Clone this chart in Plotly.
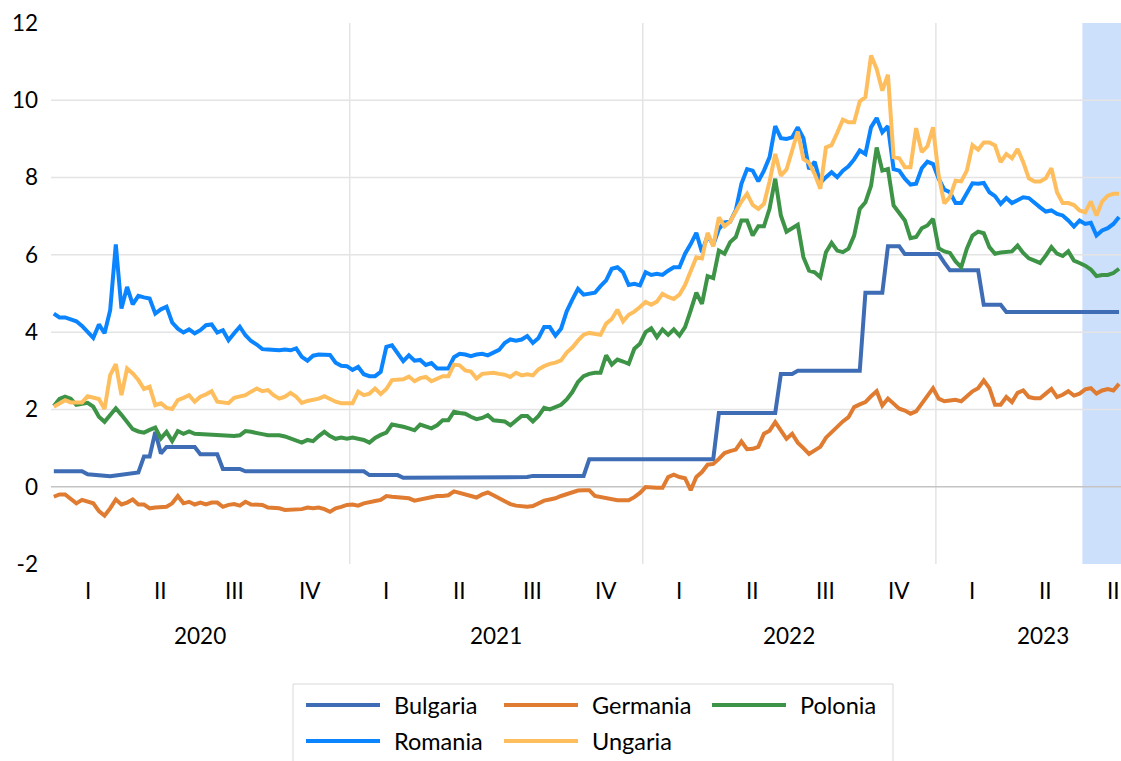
import numpy as np
import plotly.graph_objects as go

# ---------------- data ----------------
# weekly observations (ISO weeks) per year; 2023 runs to week 38 (chart cropped on the right)
week_counts = {2020: 53, 2021: 52, 2022: 52, 2023: 38}
quarter_names = ["I", "II", "III", "IV"]
series_names = ["Bulgaria", "Germania", "Polonia", "Romania", "Ungaria"]
series_colors = ["#3E6DB5", "#E07C31", "#3D9447", "#0A84FF", "#FFBE5E"]

bulgaria = ([0.40] * 6 + [0.32, 0.31, 0.30, 0.27, 0.27, 0.29, 0.31, 0.34, 0.36, 0.37]
            + [0.78, 0.78, 1.42, 0.86] + [1.03] * 6 + [0.84] * 4 + [0.46] * 4 + [0.40] * 22
            + [0.30] * 6 + [0.23] * 19 + [0.25] * 4 + [0.28] * 10 + [0.71] * 23 + [1.91] * 11
            + [2.92] * 3 + [3.00] * 12 + [5.02] * 4 + [6.22] * 3 + [6.02] * 7 + [5.80]
            + [5.60] * 6 + [4.71] * 4 + [4.52] * 21)

germania = [-0.26, -0.20, -0.20, -0.30, -0.43, -0.34, -0.39, -0.43, -0.63, -0.75, -0.56, -0.33, -0.46, -0.41, -0.33, -0.46,
            -0.46, -0.56, -0.54, -0.54, -0.52, -0.43, -0.24, -0.43, -0.39, -0.46, -0.41, -0.46, -0.41, -0.41, -0.52, -0.47,
            -0.45, -0.49, -0.39, -0.46, -0.46, -0.47, -0.54, -0.54, -0.56, -0.60, -0.59, -0.60, -0.58, -0.54, -0.56, -0.54,
            -0.58, -0.65, -0.56, -0.52, -0.47, -0.46, -0.49, -0.43, -0.41, -0.37, -0.34, -0.24, -0.26, -0.28, -0.28, -0.30,
            -0.36, -0.33, -0.28, -0.26, -0.24, -0.24, -0.22, -0.12, -0.16, -0.18, -0.22, -0.28, -0.20, -0.15, -0.22, -0.30,
            -0.38, -0.45, -0.49, -0.50, -0.52, -0.50, -0.42, -0.36, -0.33, -0.30, -0.24, -0.20, -0.15, -0.10, -0.09, -0.09,
            -0.24, -0.27, -0.31, -0.34, -0.35, -0.35, -0.35, -0.27, -0.16, -0.01, -0.03, -0.03, -0.03, 0.25, 0.31, 0.25,
            0.22, -0.09, 0.25, 0.38, 0.57, 0.59, 0.72, 0.87, 0.92, 0.96, 1.17, 0.97, 0.98, 1.03, 1.37, 1.45,
            1.67, 1.46, 1.24, 1.37, 1.14, 1.00, 0.85, 0.94, 1.03, 1.27, 1.41, 1.56, 1.69, 1.80, 2.06, 2.13,
            2.19, 2.34, 2.47, 2.10, 2.28, 2.15, 2.02, 1.97, 1.89, 1.95, 2.15, 2.36, 2.55, 2.28, 2.21, 2.23,
            2.25, 2.21, 2.34, 2.47, 2.55, 2.75, 2.55, 2.12, 2.12, 2.32, 2.19, 2.43, 2.49, 2.32, 2.29, 2.29,
            2.41, 2.53, 2.32, 2.38, 2.47, 2.36, 2.41, 2.52, 2.55, 2.41, 2.49, 2.53, 2.49, 2.66]

polonia = [2.09, 2.27, 2.33, 2.28, 2.12, 2.14, 2.17, 2.07, 1.81, 1.68, 1.86, 2.03, 1.86, 1.68, 1.49, 1.43,
           1.40, 1.47, 1.53, 1.25, 1.42, 1.18, 1.44, 1.37, 1.43, 1.37, 1.36, 1.35, 1.33, 1.33, 1.31, 1.31,
           1.31, 1.33, 1.44, 1.42, 1.38, 1.36, 1.33, 1.33, 1.33, 1.30, 1.24, 1.18, 1.14, 1.21, 1.18, 1.31,
           1.42, 1.31, 1.24, 1.27, 1.24, 1.27, 1.25, 1.21, 1.14, 1.26, 1.34, 1.40, 1.61, 1.59, 1.55, 1.51,
           1.46, 1.61, 1.57, 1.51, 1.59, 1.72, 1.72, 1.94, 1.91, 1.89, 1.81, 1.75, 1.78, 1.85, 1.72, 1.71,
           1.69, 1.59, 1.72, 1.83, 1.83, 1.69, 1.83, 2.04, 2.00, 2.06, 2.12, 2.26, 2.45, 2.71, 2.86, 2.92,
           2.95, 2.95, 3.40, 3.16, 3.29, 3.24, 3.18, 3.57, 3.70, 4.00, 4.10, 3.87, 4.07, 3.93, 4.07, 3.91,
           4.13, 4.56, 5.02, 4.73, 5.45, 5.40, 6.11, 6.03, 6.33, 6.46, 6.89, 6.89, 6.50, 6.74, 6.74, 7.20,
           7.97, 7.02, 6.60, 6.69, 6.78, 5.94, 5.59, 5.55, 5.42, 6.07, 6.31, 6.11, 6.07, 6.16, 6.50, 7.19,
           7.36, 7.79, 8.78, 8.18, 8.22, 7.28, 7.09, 6.89, 6.43, 6.46, 6.69, 6.76, 6.93, 6.17, 6.09, 6.05,
           5.83, 5.68, 6.16, 6.50, 6.60, 6.56, 6.20, 6.03, 6.06, 6.07, 6.09, 6.24, 6.05, 5.91, 5.85, 5.79,
           5.98, 6.20, 6.03, 5.97, 6.09, 5.85, 5.79, 5.72, 5.62, 5.45, 5.48, 5.48, 5.53, 5.64]

romania = [4.48, 4.38, 4.38, 4.34, 4.28, 4.16, 4.00, 3.85, 4.20, 3.97, 4.57, 6.27, 4.61, 5.17, 4.72, 4.94,
           4.90, 4.87, 4.48, 4.59, 4.66, 4.25, 4.09, 3.99, 4.07, 3.97, 4.05, 4.18, 4.20, 3.99, 4.05, 3.79,
           3.97, 4.14, 3.92, 3.77, 3.68, 3.56, 3.55, 3.53, 3.53, 3.55, 3.53, 3.58, 3.36, 3.26, 3.39, 3.42,
           3.42, 3.41, 3.21, 3.13, 3.12, 3.02, 3.10, 2.91, 2.86, 2.86, 2.97, 3.62, 3.66, 3.47, 3.25, 3.40,
           3.26, 3.28, 3.15, 3.20, 3.06, 3.06, 3.06, 3.35, 3.44, 3.42, 3.38, 3.42, 3.44, 3.40, 3.47, 3.54,
           3.72, 3.81, 3.78, 3.81, 3.90, 3.72, 3.85, 4.13, 4.13, 3.91, 4.09, 4.54, 4.84, 5.12, 4.97, 5.00,
           5.02, 5.19, 5.34, 5.64, 5.68, 5.55, 5.22, 5.25, 5.21, 5.55, 5.48, 5.51, 5.48, 5.59, 5.68, 5.68,
           6.03, 6.28, 6.57, 6.07, 6.50, 6.26, 6.67, 6.84, 6.86, 7.15, 7.84, 8.22, 8.18, 7.90, 8.18, 8.53,
           9.33, 9.02, 9.00, 9.04, 9.30, 9.02, 8.22, 8.41, 7.86, 8.01, 8.14, 8.01, 8.18, 8.29, 8.47, 8.70,
           8.61, 9.30, 9.54, 9.17, 9.33, 8.22, 8.18, 7.97, 7.82, 7.84, 8.24, 8.41, 8.35, 7.97, 7.69, 7.62,
           7.34, 7.34, 7.58, 7.85, 7.84, 7.86, 7.62, 7.52, 7.32, 7.47, 7.34, 7.43, 7.49, 7.47, 7.34, 7.23,
           7.12, 7.15, 7.06, 7.02, 6.89, 6.73, 6.89, 6.80, 6.83, 6.50, 6.63, 6.69, 6.80, 6.98]

ungaria = [2.07, 2.16, 2.24, 2.18, 2.18, 2.18, 2.34, 2.31, 2.27, 2.01, 2.89, 3.17, 2.37, 3.06, 2.93, 2.76,
           2.53, 2.59, 2.11, 2.16, 2.04, 2.01, 2.24, 2.30, 2.37, 2.20, 2.33, 2.39, 2.47, 2.20, 2.18, 2.16,
           2.30, 2.33, 2.37, 2.46, 2.54, 2.47, 2.50, 2.37, 2.28, 2.33, 2.43, 2.33, 2.17, 2.22, 2.24, 2.28,
           2.34, 2.27, 2.20, 2.16, 2.16, 2.16, 2.46, 2.37, 2.41, 2.54, 2.40, 2.53, 2.76, 2.76, 2.78, 2.85,
           2.73, 2.81, 2.84, 2.73, 2.80, 2.86, 2.86, 3.16, 3.14, 3.01, 2.98, 2.80, 2.92, 2.94, 2.95, 2.92,
           2.90, 2.84, 2.95, 2.88, 2.91, 2.88, 3.04, 3.12, 3.18, 3.21, 3.27, 3.47, 3.60, 3.78, 3.93, 3.98,
           3.96, 3.93, 4.22, 4.34, 4.58, 4.28, 4.45, 4.53, 4.65, 4.78, 4.71, 4.79, 4.99, 4.91, 4.86, 4.97,
           5.22, 5.59, 5.94, 5.91, 6.57, 6.22, 6.97, 6.74, 6.86, 7.12, 7.38, 7.58, 7.29, 7.19, 7.32, 7.90,
           8.61, 8.05, 8.21, 8.70, 9.19, 8.48, 8.38, 8.09, 7.71, 8.78, 8.84, 9.16, 9.50, 9.43, 9.43, 9.97,
           10.08, 11.16, 10.81, 10.25, 10.66, 8.53, 8.50, 8.27, 8.27, 9.28, 8.66, 8.81, 9.30, 8.05, 7.33, 7.50,
           7.92, 7.90, 8.18, 8.84, 8.72, 8.91, 8.91, 8.83, 8.40, 8.61, 8.50, 8.74, 8.40, 7.98, 7.90, 7.90,
           7.98, 8.24, 7.62, 7.34, 7.34, 7.29, 7.15, 7.10, 7.38, 7.02, 7.38, 7.53, 7.58, 7.58]

forecast_quarter = (2023, 3)   # shaded period starts with this quarter
y_ticks = [-2, 0, 2, 4, 6, 8, 10, 12]
y_tick_labels = [str(v) for v in y_ticks]
grid_values = [2, 4, 6, 8, 10]

# ---------------- categories ----------------
categories = [(y, w) for y, n in week_counts.items() for w in range(1, n + 1)]
cat_year = [c[0] for c in categories]
cat_quarter = [min((c[1] - 1) // 13, 3) + 1 for c in categories]

groups_q, groups_y = {}, {}
for i, (yr, q) in enumerate(zip(cat_year, cat_quarter)):
    groups_q.setdefault((yr, q), [i, i])[1] = i
    groups_y.setdefault(yr, [i, i])[1] = i

year_bounds = [groups_y[yr][0] - 0.5 for yr in list(groups_y)[1:]]
shade_start = groups_q[forecast_quarter][0] - 0.5

all_series = [bulgaria, germania, polonia, romania, ungaria]
x = np.arange(len(romania))

# ---------------- geometry ----------------
W, H = 1121, 761
ML, MR, MT, MB = 51, 0, 23, 197
PH = H - MT - MB
PW = W - ML - MR
X_RANGE = [-0.5, 189.35]


def py(ypx):
    return (H - MB - ypx) / PH


def px(xpx):
    return (xpx - ML) / PW


FONT = "Lato"
AX_SIZE = 22.5
LEG_SIZE = 23.5

fig = go.Figure()
for name, vals, col in zip(series_names, all_series, series_colors):
    fig.add_trace(go.Scatter(x=x[:len(vals)], y=vals, mode="lines", name=name,
                             line=dict(color=col, width=4), showlegend=False,
                             hoverinfo="x+y+name"))

shapes = []
shapes.append(dict(type="rect", xref="x", yref="paper", x0=shade_start, x1=X_RANGE[1] + 5,
                   y0=0, y1=1, fillcolor="#CCE0FC", line=dict(width=0), layer="below"))
for g in grid_values:
    shapes.append(dict(type="line", xref="paper", yref="y", x0=0, x1=1, y0=g, y1=g,
                       line=dict(color="#E4E4E4", width=1.5), layer="below"))
for b in year_bounds:
    shapes.append(dict(type="line", xref="x", yref="paper", x0=b, x1=b, y0=0, y1=1,
                       line=dict(color="#E4E4E4", width=1.5), layer="below"))
shapes.append(dict(type="line", xref="paper", yref="y", x0=0, x1=1, y0=0, y1=0,
                   line=dict(color="#C4C4C4", width=1.5), layer="below"))

annotations = []
for (yr, q), (a, b) in groups_q.items():
    annotations.append(dict(x=(a + b) / 2, y=py(590), xref="x", yref="paper", text=quarter_names[q - 1],
                            showarrow=False, xanchor="center", yanchor="middle",
                            font=dict(family=FONT, size=AX_SIZE, color="#000000")))
for yr, (a, b) in groups_y.items():
    annotations.append(dict(x=(a + b) / 2, y=py(635), xref="x", yref="paper", text=str(yr),
                            showarrow=False, xanchor="center", yanchor="middle",
                            font=dict(family=FONT, size=AX_SIZE, color="#000000")))

# legend (custom, drawn below the chart)
shapes.append(dict(type="rect", xref="paper", yref="paper", x0=px(293), x1=px(893),
                   y0=py(684), y1=py(790), line=dict(color="#D9D9D9", width=1), fillcolor="rgba(0,0,0,0)"))
legend_slots = [(306, 705), (504, 705), (712, 705), (306, 741), (504, 741)]
for name, col, (lx, ly) in zip(series_names, series_colors, legend_slots):
    shapes.append(dict(type="line", xref="paper", yref="paper", x0=px(lx), x1=px(lx + 74),
                       y0=py(ly), y1=py(ly), line=dict(color=col, width=4)))
    annotations.append(dict(x=px(lx + 86), y=py(ly), xref="paper", yref="paper", text=name,
                            showarrow=False, xanchor="left", yanchor="middle",
                            font=dict(family=FONT, size=LEG_SIZE, color="#000000")))

fig.update_layout(
    width=W, height=H,
    margin=dict(l=ML, r=MR, t=MT, b=MB, pad=0),
    paper_bgcolor="white", plot_bgcolor="white",
    shapes=shapes, annotations=annotations,
    showlegend=False,
    xaxis=dict(range=X_RANGE, showgrid=False, zeroline=False, showticklabels=False,
               showline=False, ticks="", fixedrange=True),
    yaxis=dict(range=[-2, 12], tickvals=y_ticks, ticktext=y_tick_labels, showgrid=False, zeroline=False,
               showline=False, ticks="", ticklabelstandoff=12,
               tickfont=dict(family=FONT, size=AX_SIZE, color="#000000"), fixedrange=True),
    font=dict(family=FONT, color="#000000"),
)

fig.write_html("out.html", config={"displayModeBar": False},
               post_script="document.body.style.margin='0px';document.body.style.overflow='hidden';")
